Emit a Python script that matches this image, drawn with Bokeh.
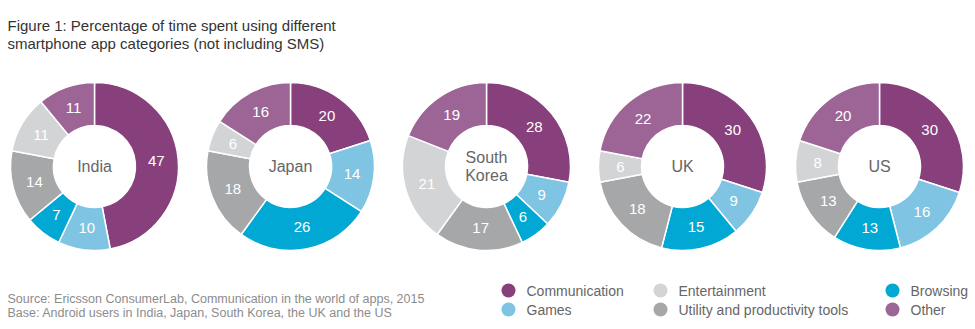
import numpy as np
from bokeh.plotting import figure
from bokeh.models import ColumnDataSource, Range1d
from bokeh.core.properties import value
from bokeh.embed import file_html
from bokeh.resources import INLINE

# ---------------- data ----------------
countries = ["India", "Japan", "South\nKorea", "UK", "US"]
categories = ["Communication", "Games", "Browsing",
              "Utility and productivity tools", "Entertainment", "Other"]
communication = [47, 20, 28, 30, 30]
games = [10, 14, 9, 9, 16]
browsing = [7, 26, 6, 15, 13]
utility = [14, 18, 17, 18, 13]
entertainment = [11, 6, 21, 6, 8]
other = [11, 16, 19, 22, 20]

title_lines = ["Figure 1: Percentage of time spent using different",
               "smartphone app categories (not including SMS)"]
source_lines = ["Source: Ericsson ConsumerLab, Communication in the world of apps, 2015",
                "Base: Android users in India, Japan, South Korea, the UK and the US"]
legend_order = ["Communication", "Entertainment", "Browsing",
                "Games", "Utility and productivity tools", "Other"]

colors = {
    "Communication": "#88407d",
    "Games": "#7fc4e2",
    "Browsing": "#00a8d3",
    "Utility and productivity tools": "#a6a7a9",
    "Entertainment": "#d3d4d6",
    "Other": "#9c6596",
}

# ---------------- layout ----------------
W, H = 975, 329
FONT = value("Liberation Sans")
centers_x = [94, 290, 486, 682, 879]
center_y_px = 166
R_OUT, R_IN = 84, 41
R_LAB = 62

p = figure(width=W, height=H, x_range=Range1d(0, W), y_range=Range1d(0, H),
           x_axis_type=None, y_axis_type=None, toolbar_location=None,
           output_backend="svg", min_border=0)
p.grid.visible = False
p.outline_line_color = None
p.background_fill_color = "white"
p.border_fill_color = "white"

series = [communication, games, browsing, utility, entertainment, other]
wx, wy, ws, we, wc = [], [], [], [], []
lx, ly, lt = [], [], []
cy = H - center_y_px
for i, cx in enumerate(centers_x):
    vals = [s[i] for s in series]
    total = float(sum(vals))
    cum = 0.0
    for cat, v in zip(categories, vals):
        a0 = np.pi / 2 - 2 * np.pi * cum / total
        a1 = np.pi / 2 - 2 * np.pi * (cum + v) / total
        wx.append(cx); wy.append(cy)
        ws.append(a1); we.append(a0)
        wc.append(colors[cat])
        mid = (a0 + a1) / 2
        lx.append(cx + R_LAB * np.cos(mid))
        ly.append(cy + R_LAB * np.sin(mid))
        lt.append(str(v))
        cum += v

wsrc = ColumnDataSource(dict(x=wx, y=wy, s=ws, e=we, c=wc))
p.annular_wedge(x="x", y="y", inner_radius=R_IN, outer_radius=R_OUT,
                start_angle="s", end_angle="e", fill_color="c",
                line_color="white", line_width=1.5, source=wsrc)

p.text(x=lx, y=ly, text=lt, text_color="white", text_font=FONT,
       text_font_size="15px", text_align="center", text_baseline="middle")

p.text(x=centers_x, y=[cy] * len(centers_x), text=countries,
       text_color="#666666", text_font=FONT, text_font_size="16px",
       text_align="center", text_baseline="middle", text_line_height=1.1)

# title
p.text(x=[7, 7], y=[H - 25, H - 43], text=title_lines, text_color="#333333",
       text_font=FONT, text_font_size="15px", text_align="left",
       text_baseline="alphabetic")

# source
p.text(x=[7, 7], y=[H - 298, H - 312], text=source_lines, text_color="#8c8c8c",
       text_font=FONT, text_font_size="12.5px", text_align="left",
       text_baseline="alphabetic")

# legend
col_x = [508, 660, 892]
row_y = [290, 309]
leg_cx, leg_cy, leg_tx, leg_c = [], [], [], []
for k, cat in enumerate(legend_order):
    r, c = divmod(k, 3)
    leg_cx.append(col_x[c]); leg_cy.append(H - row_y[r])
    leg_tx.append(col_x[c] + 18)
    leg_c.append(colors[cat])
p.scatter(x=leg_cx, y=leg_cy, size=14, fill_color=leg_c, line_color=None)
p.text(x=leg_tx, y=leg_cy, text=legend_order, text_color="#666666",
       text_font=FONT, text_font_size="14px", text_align="left",
       text_baseline="middle")

open("out.html", "w").write(file_html(p, INLINE))
